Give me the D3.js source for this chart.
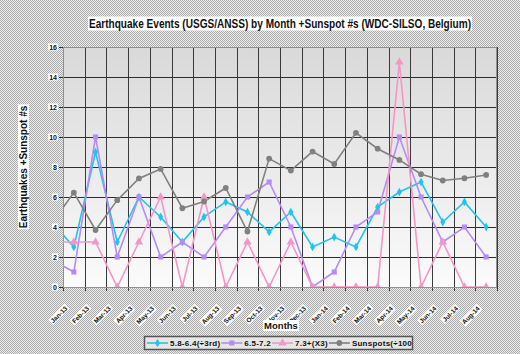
<!DOCTYPE html>
<html>
<head>
<meta charset="utf-8">
<script src="https://cdnjs.cloudflare.com/ajax/libs/d3/7.8.5/d3.min.js"></script>
<style>
  body { margin: 0; }
  svg { display: block; font-family: "Liberation Sans", Arial, sans-serif; }
</style>
</head>
<body>
<svg id="chart" width="520" height="354"></svg>
<script>
// months, with Dec-12 only used for the clipped segment at the left edge
const months = ["Dec-12", "Jan-13", "Feb-13", "Mar-13", "Apr-13", "May-13", "Jun-13", "Jul-13", "Aug-13",
    "Sep-13", "Oct-13", "Nov-13", "Dec-13", "Jan-14", "Feb-14", "Mar-14", "Apr-14", "May-14",
    "Jun-14", "Jul-14", "Aug-14"];
const quakesLow = [4.3, 2.67, 9, 3, 6, 4.67, 3, 4.67, 5.67, 5, 3.67, 5, 2.67, 3.33, 2.67, 5.33, 6.33, 7, 4.33, 5.67, 4];
const quakesMid = [1.8, 1, 10, 2, 6, 2, 3, 2, 4, 6, 7, 4, 0, 1, 4, 5, 10, 6, 3, 4, 2];
const quakesHigh = [3, 3, 3, 0, 3, 6, 0, 6, 0, 3, 0, 3, 0, 0, 0, 0, 15, 0, 3, 0, 0];
const sunspots = [4.3, 6.29, 3.8, 5.79, 7.24, 7.87, 5.25, 5.7, 6.6, 3.7, 8.56, 7.76, 9.03, 8.2, 10.28, 9.22, 8.47, 7.52, 7.1, 7.25, 7.47];
const yTicks = [0, 2, 4, 6, 8, 10, 12, 14, 16];

const seriesNames = ["5.8-6.4(\u00f73rd)", "6.5-7.2", "7.3+(X3)", "Sunspots(\u00f7100)"];
const seriesValues = [quakesLow, quakesMid, quakesHigh, sunspots];
const seriesColors = ["#22c4ee", "#b48cf4", "#f596c8", "#808080"];
const seriesMarkers = [d3.symbolDiamond, d3.symbolSquare, d3.symbolTriangle, d3.symbolCircle];
const markerSizes = [22, 26, 30, 26];

const svg = d3.select("#chart"),
    margin = {top: 47, right: 23, bottom: 67, left: 63},
    width = 520 - margin.left - margin.right,
    height = 354 - margin.top - margin.bottom;

const defs = svg.append("defs");
let pat = defs.append("pattern").attr("id", "dither")
    .attr("patternUnits", "userSpaceOnUse").attr("width", 2).attr("height", 2);
pat.append("rect").attr("width", 2).attr("height", 2).attr("fill", "#ececec");
pat.append("rect").attr("width", 1).attr("height", 1).attr("fill", "#acacac");
pat.append("rect").attr("x", 1).attr("y", 1).attr("width", 1).attr("height", 1).attr("fill", "#acacac");

let grad = defs.append("linearGradient").attr("id", "plotbg")
    .attr("x1", 0).attr("y1", 0).attr("x2", 0).attr("y2", 1);
grad.append("stop").attr("offset", "0%").attr("stop-color", "#d9d9d9");
grad.append("stop").attr("offset", "100%").attr("stop-color", "#fbfbfb");

defs.append("clipPath").attr("id", "plotclip")
    .append("rect").attr("width", width).attr("height", height);

svg.append("rect").attr("width", 520).attr("height", 354).attr("fill", "url(#dither)");

let x = d3.scaleLinear().domain([0.5, months.length - 0.5]).range([0, width]),
    y = d3.scaleLinear().domain([0, 16]).range([height, 0]);

let g = svg.append("g").attr("transform", "translate(" + margin.left + "," + margin.top + ")");

g.append("rect").attr("width", width).attr("height", height).attr("fill", "url(#plotbg)");

// grid
let bounds = d3.range(0.5, months.length, 1);
g.append("g").selectAll("line").data(bounds).enter().append("line")
    .attr("x1", d => Math.round(x(d)) + 0.5).attr("x2", d => Math.round(x(d)) + 0.5)
    .attr("y1", 0).attr("y2", height + 4)
    .attr("stroke", "#3a3a3a").attr("stroke-width", 1);
g.append("g").selectAll("line").data(yTicks).enter().append("line")
    .attr("x1", -4).attr("x2", width)
    .attr("y1", d => Math.round(y(d)) + 0.5).attr("y2", d => Math.round(y(d)) + 0.5)
    .attr("stroke", "#2e2e2e").attr("stroke-width", 1);
g.append("rect").attr("x", 0.5).attr("y", 0.5).attr("width", width - 1).attr("height", height)
    .attr("fill", "none").attr("stroke", "#909090");

// white-backed label helper
function boxedText(parent, tx, ty, rot, str, size, anchor, fit) {
    let gg = parent.append("g").attr("transform", "translate(" + tx + "," + ty + ") rotate(" + rot + ")");
    let r = gg.append("rect").attr("fill", "#fff");
    let t = gg.append("text").attr("text-anchor", anchor)
        .style("font-size", size + "px").style("font-weight", "bold")
        .attr("fill", "#111").text(str);
    if (fit) t.attr("textLength", fit).attr("lengthAdjust", "spacingAndGlyphs");
    let b = t.node().getBBox();
    r.attr("x", b.x - 1).attr("y", b.y).attr("width", b.width + 2).attr("height", b.height);
    return t;
}

// y tick labels
yTicks.forEach(function(v) {
    boxedText(g, -6, y(v) + 2.5, 0, v, 7, "end");
});

// x tick labels
months.forEach(function(m, i) {
    if (i === 0) return;
    boxedText(g, x(i) - 6, height + 22, -45, m, 6.5, "end");
});

// series
let line = d3.line().x((d, i) => x(i)).y(d => y(d));
let plot = g.append("g").attr("clip-path", "url(#plotclip)");
seriesValues.forEach(function(vals, k) {
    plot.append("path").datum(vals)
        .attr("d", line)
        .attr("fill", "none")
        .attr("stroke", seriesColors[k])
        .attr("stroke-width", 1.6);
});
seriesValues.forEach(function(vals, k) {
    plot.selectAll(".m" + k).data(vals.slice(1)).enter().append("path")
        .attr("class", "m" + k)
        .attr("transform", (d, i) => "translate(" + x(i + 1) + "," + y(d) + ")")
        .attr("d", d3.symbol().type(seriesMarkers[k]).size(markerSizes[k]))
        .attr("fill", seriesColors[k]);
});

// titles
boxedText(svg, 280, 27.5, 0, "Earthquake Events (USGS/ANSS) by Month +Sunspot #s (WDC-SILSO, Belgium)", 12, "middle", 382);
boxedText(svg, 281, 329, 0, "Months", 9.5, "middle");
boxedText(svg, 27, margin.top + height / 2, -90, "Earthquakes +Sunspot #s", 10, "middle");

// legend
let lg = svg.append("g").attr("transform", "translate(144,336)");
defs.append("clipPath").attr("id", "legclip").append("rect").attr("width", 268).attr("height", 14);
lg.append("rect").attr("x", 0.5).attr("y", 0.5).attr("width", 268).attr("height", 13)
    .attr("fill", "#e6e6e6").attr("stroke", "#555").attr("stroke-width", 1.5);
let lgIn = lg.append("g").attr("clip-path", "url(#legclip)");
let cx = 3;
seriesNames.forEach(function(name, k) {
    lgIn.append("line").attr("x1", cx).attr("x2", cx + 21).attr("y1", 7).attr("y2", 7)
        .attr("stroke", seriesColors[k]).attr("stroke-width", 1.6);
    lgIn.append("path").attr("transform", "translate(" + (cx + 10.5) + ",7)")
        .attr("d", d3.symbol().type(seriesMarkers[k]).size(markerSizes[k]))
        .attr("fill", seriesColors[k]);
    let t = lgIn.append("text").attr("x", cx + 23).attr("y", 10)
        .style("font-size", "8px").style("font-weight", "bold").style("letter-spacing", "0.25px")
        .attr("fill", "#111").text(name);
    cx += 23 + t.node().getComputedTextLength() + 1;
});
</script>
</body>
</html>
